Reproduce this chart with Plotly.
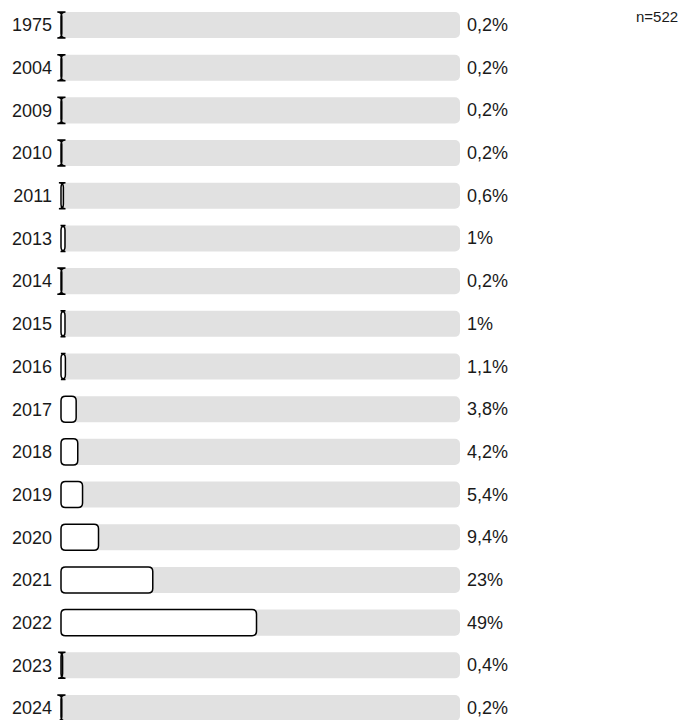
import plotly.graph_objects as go

# Survey answers: year, share of respondents (%)
years = ["1975", "2004", "2009", "2010", "2011", "2013", "2014", "2015", "2016",
         "2017", "2018", "2019", "2020", "2021", "2022", "2023", "2024"]
shares = [0.2, 0.2, 0.2, 0.2, 0.6, 1, 0.2, 1, 1.1, 3.8, 4.2, 5.4, 9.4, 23, 49, 0.4, 0.2]
sample_size = 522
scale_max = 100

FONT = "Liberation Sans, Arial, sans-serif"
W, H = 681, 720
PAD = 8               # room left of the zero line so the bar outlines are not clipped
M_L, M_R = 61 - PAD, 221
n = len(years)
y_range = [n - 1 + 0.281, -0.586]
bar_w = 0.61          # bar thickness in row units
corner_px = 4.5       # corner rounding of answer bars, in pixels

# pixel -> data unit factors, used to keep corner rounding constant on screen
px_per_x = (W - 61 - M_R) / scale_max
px_per_row = H / abs(y_range[0] - y_range[1])
rx = corner_px / px_per_x
ry = corner_px / px_per_row
x_range = [-PAD / px_per_x, scale_max]


def fmt_pct(v):
    s = f"{v:.1f}".rstrip("0").rstrip(".")
    return s.replace(".", ",") + "%"


def rounded_bar(x0, x1, yc):
    y0, y1 = yc - bar_w / 2, yc + bar_w / 2
    return (f"M {x0 + rx},{y0} H {x1 - rx} Q {x1},{y0} {x1},{y0 + ry} "
            f"V {y1 - ry} Q {x1},{y1} {x1 - rx},{y1} H {x0 + rx} "
            f"Q {x0},{y1} {x0},{y1 - ry} V {y0 + ry} Q {x0},{y0} {x0 + rx},{y0} Z")


rows = list(range(n))
fig = go.Figure()

# grey track behind each answer
fig.add_trace(go.Bar(
    y=rows, x=[scale_max] * n, orientation="h",
    marker=dict(color="#e1e1e1", line=dict(width=0), cornerradius=5),
    width=bar_w, hoverinfo="skip", showlegend=False,
))

# answer share bars, outlined with rounded corners
for i, v in enumerate(shares):
    fig.add_shape(
        type="path", xref="x", yref="y", path=rounded_bar(0, v, i),
        fillcolor="white", line=dict(color="black", width=1.5), layer="above",
    )

# share labels after the track
for i, v in enumerate(shares):
    fig.add_annotation(
        x=1, y=i, xref="paper", yref="y", text=fmt_pct(v),
        showarrow=False, xanchor="left", xshift=5,
        font=dict(family=FONT, size=18, color="#1a1a1a"),
    )

fig.add_annotation(
    x=1, y=1, xref="paper", yref="paper", text=f"n={sample_size}",
    showarrow=False, xanchor="right", yanchor="top", xshift=220, yshift=-6,
    font=dict(family=FONT, size=15, color="#1a1a1a"),
)

fig.update_layout(
    width=W, height=H,
    margin=dict(l=M_L, r=M_R, t=0, b=0),
    paper_bgcolor="white", plot_bgcolor="white",
    barmode="overlay",
    xaxis=dict(range=x_range, visible=False, fixedrange=True),
    yaxis=dict(
        range=y_range, tickmode="array", tickvals=rows, ticktext=years,
        showgrid=False, zeroline=False, showline=False, ticks="",
        ticklabelstandoff=0,
        tickfont=dict(family=FONT, size=18, color="#1a1a1a"),
    ),
)

fig.write_html("out.html")
